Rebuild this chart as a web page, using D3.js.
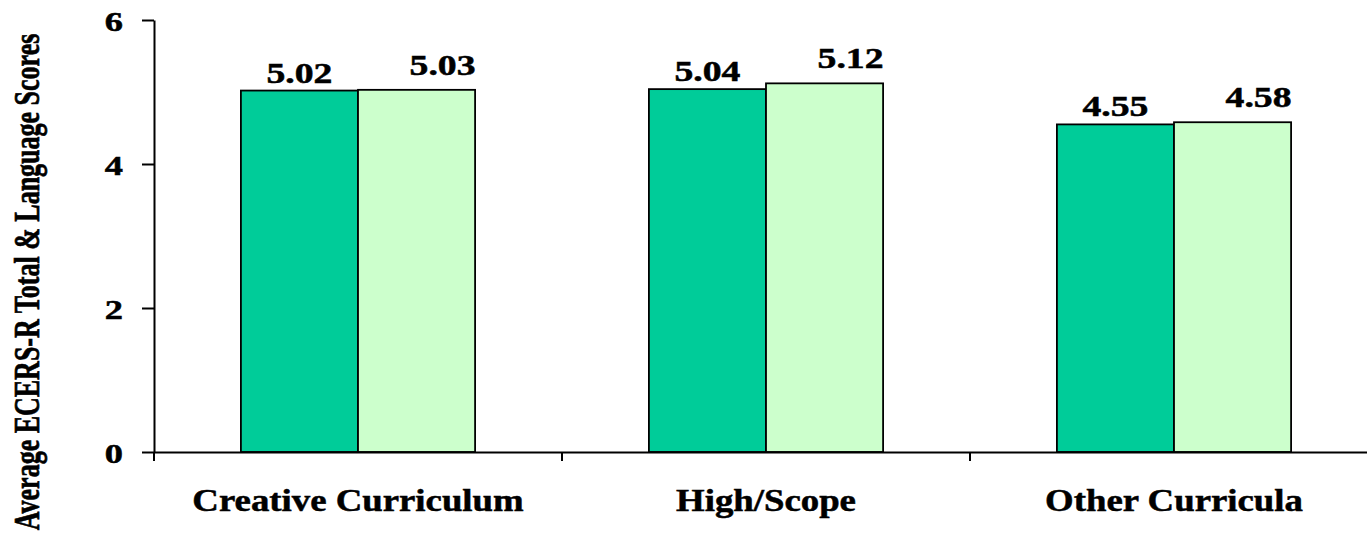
<!DOCTYPE html>
<html>
<head>
<meta charset="utf-8">
<script src="https://cdn.jsdelivr.net/npm/d3@7"></script>
<style>
  body { margin: 0; background: #fff; }
  text { font-family: "Liberation Serif", "Times New Roman", serif; font-weight: bold; fill: #000; stroke: #000; stroke-width: 0.5px; }
</style>
</head>
<body>
<script>
// data
var categories = ["Creative Curriculum", "High/Scope", "Other Curricula"];
var seriesNames = ["Total", "Language"];
var totalScores = [5.02, 5.04, 4.55];
var languageScores = [5.03, 5.12, 4.58];
var yTicks = [0, 2, 4, 6];

var W = 1367, H = 538;
var plotLeft = 154, plotTop = 20, baseY = 452;
var catWidth = 408;

var rows = categories.map(function(c, i) {
  return { cat: c, values: [totalScores[i], languageScores[i]] };
});

var colors = ["#00CC99", "#CCFFCC"];
// label nudges per series (the light one sits up and to the right in the original)
var labelDx = [0, 26], labelDy = [-8, -15];

var svg = d3.select("body").append("svg")
  .attr("width", W)
  .attr("height", H);

var y = d3.scaleLinear().domain([0, 6]).range([baseY, plotTop]);

var x0 = d3.scaleBand()
  .domain(categories)
  .range([plotLeft, plotLeft + catWidth * categories.length])
  .padding(0);

var bw = x0.bandwidth();
var x1 = d3.scaleBand()
  .domain(seriesNames)
  .range([bw * 0.213, bw * 0.787])
  .padding(0);

// bars
var groups = svg.append("g").attr("class", "groups")
  .selectAll("g")
  .data(rows)
  .enter().append("g")
    .attr("transform", function(d) { return "translate(" + x0(d.cat) + ",0)"; });

groups.selectAll("rect")
  .data(function(d) { return d.values.map(function(v, j) { return { s: seriesNames[j], j: j, v: v }; }); })
  .enter().append("rect")
    .attr("x", function(d) { return x1(d.s); })
    .attr("y", function(d) { return y(d.v); })
    .attr("width", x1.bandwidth())
    .attr("height", function(d) { return baseY - y(d.v); })
    .attr("fill", function(d) { return colors[d.j]; })
    .attr("stroke", "#000")
    .attr("stroke-width", 1.8);

groups.selectAll("text.val")
  .data(function(d) { return d.values.map(function(v, j) { return { s: seriesNames[j], j: j, v: v }; }); })
  .enter().append("text")
    .attr("class", "val")
    .attr("text-anchor", "middle")
    .style("font-size", "29px")
    .attr("transform", function(d) {
      var cx = x1(d.s) + x1.bandwidth() / 2 + labelDx[d.j];
      return "translate(" + cx + "," + (y(d.v) + labelDy[d.j]) + ") scale(1.3,1)";
    })
    .text(function(d) { return d3.format(".2f")(d.v); });

// y axis
var yAxis = d3.axisLeft(y)
  .tickValues(yTicks)
  .tickSize(12)
  .tickSizeOuter(0)
  .tickFormat(d3.format("d"));

var gy = svg.append("g")
  .attr("transform", "translate(" + plotLeft + ",0)")
  .call(yAxis);
gy.selectAll("path, line").attr("stroke", "#000").attr("stroke-width", 2);
gy.selectAll("text")
  .style("font-size", "28px")
  .attr("x", -31 / 1.3)
  .attr("dy", "0.36em")
  .attr("transform", "scale(1.3,1)");

// x axis: baseline, separators, labels
var xAxis = d3.axisBottom(x0).tickSize(0).tickSizeOuter(0);
var gx = svg.append("g")
  .attr("transform", "translate(0," + baseY + ")")
  .call(xAxis);
gx.select("path.domain").attr("stroke", "#000").attr("stroke-width", 2);
gx.selectAll("text").remove();

gx.selectAll("line.sep")
  .data(categories)
  .enter().append("line")
    .attr("class", "sep")
    .attr("x1", function(d) { return x0(d); })
    .attr("x2", function(d) { return x0(d); })
    .attr("y1", 0)
    .attr("y2", 9)
    .attr("stroke", "#000")
    .attr("stroke-width", 2);

svg.append("g").selectAll("text")
  .data(categories)
  .enter().append("text")
    .attr("text-anchor", "middle")
    .style("font-size", "32px")
    .attr("transform", function(d) {
      return "translate(" + (x0(d) + bw / 2) + ",511) scale(1.15,1)";
    })
    .text(function(d) { return d; });

// y title
svg.append("text")
  .attr("text-anchor", "middle")
  .style("font-size", "26px")
  .attr("transform", "translate(39,282) scale(1.4,1) rotate(-90)")
  .text("Average ECERS-R Total & Language Scores");
</script>
</body>
</html>
